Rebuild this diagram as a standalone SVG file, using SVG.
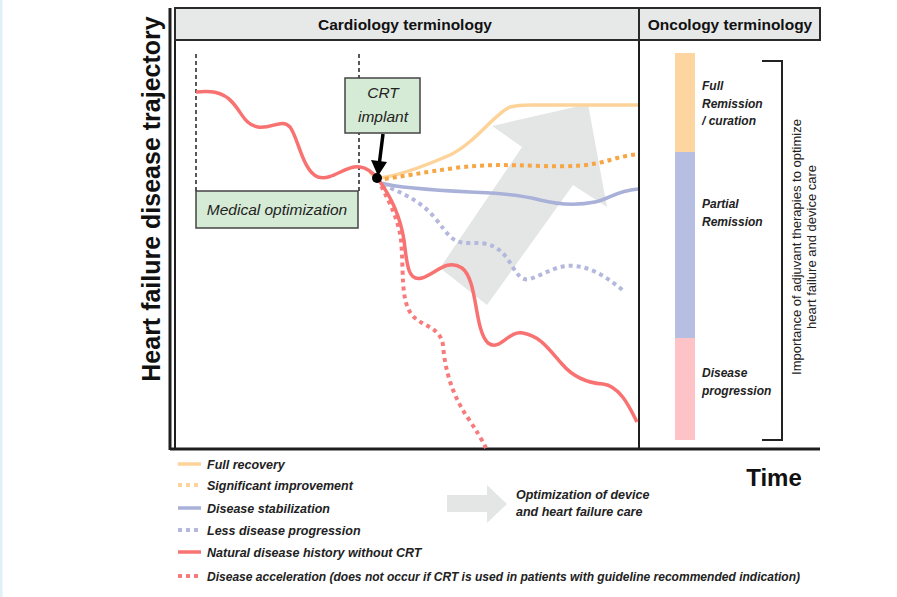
<svg xmlns="http://www.w3.org/2000/svg" width="897" height="597" viewBox="0 0 897 597">
<defs>
<style>
.hdr{fill:#e7e9e9;stroke:#2a2a2a;stroke-width:2}
.ht{font-family:"Liberation Sans",Arial,sans-serif;font-weight:bold;font-size:15.5px;fill:#111;text-anchor:middle}
.box{fill:#d6ebd6;stroke:#444;stroke-width:1.5}
.bt{font-family:"Liberation Sans",Arial,sans-serif;font-style:italic;font-size:15.5px;fill:#222;text-anchor:middle}
.lg{font-family:"Liberation Sans",Arial,sans-serif;font-style:italic;font-weight:bold;font-size:12.5px;fill:#222}
.on{font-family:"Liberation Sans",Arial,sans-serif;font-style:italic;font-weight:bold;font-size:12px;fill:#222}
.vt{font-family:"Liberation Sans",Arial,sans-serif;font-size:13px;fill:#222;text-anchor:middle}
.c{fill:none;stroke-width:3.5;stroke-linecap:butt}
.dot{stroke-dasharray:4 4;stroke-width:4}
.red{stroke:#f87272}
.redd{stroke:#f77b7b}
.or{stroke:#fdd39a}
.ord{stroke:#f7a645}
.bl{stroke:#aab1d8}
.bld{stroke:#b3b8dc}
.ax{stroke:#1e1e1e;fill:none}
</style>
</defs>
<rect x="0" y="0" width="897" height="597" fill="#fff"/>
<rect x="0" y="0" width="2.5" height="597" fill="#dff0f6"/>

<g id="frame">
<line class="ax" x1="170" y1="8" x2="170" y2="450" stroke-width="3"/>
<line class="ax" x1="175" y1="8" x2="175" y2="449" stroke-width="2"/>
<line class="ax" x1="639" y1="40" x2="639" y2="449" stroke-width="2"/>
<line class="ax" x1="170" y1="449" x2="820" y2="449" stroke-width="3"/>
</g>

<g id="header-cardiology">
<rect class="hdr" x="175" y="8" width="464" height="32"/>
<text class="ht" x="405" y="29.5">Cardiology terminology</text>
</g>
<g id="header-oncology">
<rect class="hdr" x="639" y="8" width="181" height="32"/>
<text class="ht" x="730" y="29.5">Oncology terminology</text>
</g>

<g id="y-label">
<text x="160" y="199" transform="rotate(-90 160 199)" font-family="'Liberation Sans',Arial,sans-serif" font-weight="bold" font-size="25" fill="#111" text-anchor="middle">Heart failure disease trajectory</text>
</g>
<g id="x-label">
<text x="774" y="486" font-family="'Liberation Sans',Arial,sans-serif" font-weight="bold" font-size="24" fill="#111" text-anchor="middle">Time</text>
</g>

<g id="big-arrow">
<polygon points="588,104 607,207 573,185 487,305 440,268 522,147 492,126" fill="#e4e6e6"/>
</g>

<g id="phase-lines">
<line x1="196" y1="54" x2="196" y2="191" stroke="#222" stroke-width="1.5" stroke-dasharray="4 3"/>
<line x1="359" y1="54" x2="359" y2="191" stroke="#222" stroke-width="1.5" stroke-dasharray="4 3"/>
</g>

<g id="connectors">
<path class="c or" d="M370,172 C372,175 374,177 377,178 C395,177 420,168 450,155 C475,143 495,113 510,107 C520,104 530,105 545,105 L638,105"/>
<path class="c dot ord" d="M377,180 C400,177 425,172 455,168 C485,164 510,165 540,166 C570,167 590,166 610,160 C620,157 630,155 638,154"/>
<path class="c bl" d="M380,183 C400,188 430,190 470,192 C500,193 520,195 540,200 C560,205 580,205 595,202 C610,199 615,191 638,189"/>
<path class="c dot bld" d="M383,185 C400,192 420,200 435,218 C448,234 452,244 470,243 C490,242 498,247 507,258 C515,270 520,282 530,279 C545,274 558,264 575,266 C595,268 610,280 625,292"/>
<path class="c dot redd" d="M378,179 C385,195 398,215 401,240 C404,270 400,300 412,315 C422,327 440,326 443,345 C445,370 452,395 468,418 C476,430 482,440 486,448"/>
<path class="c red" d="M196,92 C208,91 222,90 233,103 C242,113 245,125 258,127 C272,129 282,118 290,127 C298,137 303,172 318,177 C333,181 345,165 360,167 C368,168 374,174 378,179 C390,195 400,215 404,240 C407,265 408,282 422,278 C436,274 446,258 462,268 C478,280 474,330 488,343 C500,352 508,330 523,333 C540,336 548,348 562,364 C574,378 588,383 603,384 C620,386 630,408 637,422"/>
<line x1="383" y1="134" x2="379.5" y2="162" stroke="#000" stroke-width="3.5"/>
<polygon points="371,160 387,162 378,176" fill="#000"/>
<circle cx="377" cy="178" r="5" fill="#000"/>
</g>

<g id="medical-optimization">
<rect class="box" x="196" y="191" width="162" height="37"/>
<text class="bt" x="277" y="215">Medical optimization</text>
</g>
<g id="crt-implant">
<rect class="box" x="345" y="78" width="75" height="55"/>
<text class="bt" x="383" y="98">CRT</text>
<text class="bt" x="383" y="122">implant</text>
</g>

<g id="oncology-scale">
<rect x="675" y="53" width="20" height="99" fill="#fdd5a0"/>
<rect x="675" y="152" width="20" height="186" fill="#b6bee1"/>
<rect x="675" y="338" width="20" height="102" fill="#fdc3c7"/>
<text class="on" x="702" y="90">Full</text>
<text class="on" x="702" y="108">Remission</text>
<text class="on" x="702" y="125">/ curation</text>
<text class="on" x="702" y="208">Partial</text>
<text class="on" x="702" y="226">Remission</text>
<text class="on" x="702" y="377">Disease</text>
<text class="on" x="702" y="395">progression</text>
</g>
<g id="bracket">
<path d="M762,61 H782 V440 H762" fill="none" stroke="#222" stroke-width="2"/>
<text class="vt" transform="translate(801 247) rotate(-90)">Importance of adjuvant therapies to optimize</text>
<text class="vt" transform="translate(816 247) rotate(-90)">heart failure and device care</text>
</g>

<g id="legend">
<line class="c or" x1="178" y1="464" x2="201" y2="464"/>
<text class="lg" x="207" y="469">Full recovery</text>
<line class="c dot or" x1="178" y1="485" x2="202" y2="485"/>
<text class="lg" x="207" y="490">Significant improvement</text>
<line class="c bl" x1="178" y1="508" x2="201" y2="508"/>
<text class="lg" x="207" y="513">Disease stabilization</text>
<line class="c dot bld" x1="178" y1="530" x2="202" y2="530"/>
<text class="lg" x="207" y="535">Less disease progression</text>
<line class="c red" x1="178" y1="552" x2="201" y2="552"/>
<text class="lg" x="207" y="557">Natural disease history without CRT</text>
<line class="c dot redd" x1="178" y1="576" x2="202" y2="576"/>
<text class="lg" x="207" y="581" textLength="593" lengthAdjust="spacingAndGlyphs">Disease acceleration (does not occur if CRT is used in patients with guideline recommended indication)</text>
<polygon points="447,495 487,495 487,485 507,504 487,523 487,512 447,512" fill="#e4e6e6"/>
<text class="lg" x="516" y="499">Optimization of device</text>
<text class="lg" x="516" y="516">and heart failure care</text>
</g>
</svg>
